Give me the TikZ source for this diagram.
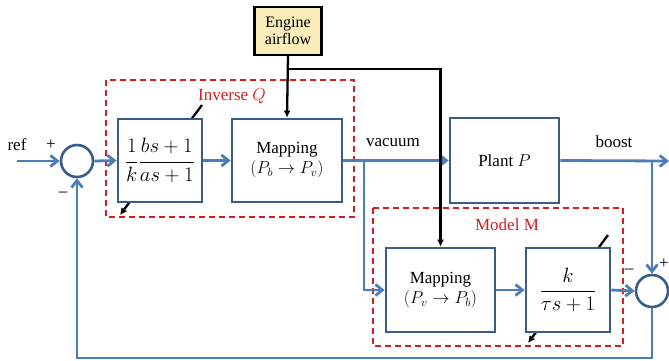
\documentclass[tikz,border=0pt]{standalone}
\usepackage{fontspec}
\setmainfont{Liberation Serif}
\usetikzlibrary{arrows.meta}
\definecolor{wire}{RGB}{74,126,187}
\definecolor{edge}{RGB}{56,93,138}
\definecolor{dash}{RGB}{210,30,30}
\definecolor{sand}{RGB}{249,237,185}
\begin{document}
\begin{tikzpicture}[x=1pt,y=-1pt,line cap=butt,line join=miter,
  >={Straight Barb[length=7pt,width=11pt]},
  font=\fontsize{17}{20}\selectfont,
  blockbox/.style={draw=edge,line width=2.6pt,fill=white,align=center,inner sep=0pt},
  sumnode/.style={draw=edge,line width=2.6pt,fill=white,circle,minimum size=32pt,inner sep=0pt},
  wireline/.style={draw=wire,line width=2.8pt},
  frame/.style={draw=dash,line width=1.7pt,dash pattern=on 6pt off 4pt},
  tuner/.style={draw=black,line width=2.3pt,-{Latex[length=7pt,width=7pt]}},
  sign/.style={inner sep=0pt,font=\fontsize{17}{17}\selectfont}]
  \useasboundingbox (0,0) rectangle (669,360);
  % frames of Q and M
  \draw[frame] (106,80) rectangle (354,217);
  \draw[frame] (373,208) rectangle (623,346);
  \node[text=dash,inner sep=1pt] (qlab) at (232,96) {Inverse $Q$};
  \node[text=dash,inner sep=1pt] (mlab) at (507,225) {Model M};
  % tuning arrows, behind the blocks
  \draw[tuner] (202,105) -- (120,215);
  \draw[tuner] (608,235) -- (528,343);
  % blocks
  \node[sumnode] (sumA) at (77,161) {};
  \node[blockbox,minimum width=84pt,minimum height=83pt] (blkQ) at (160,160.5)
    {\fontsize{20}{22}\selectfont$\displaystyle\frac{1}{k}\frac{bs+1}{as+1}$};
  \node[blockbox,minimum width=110pt,minimum height=83pt] (mapA) at (287,160.5)
    {Mapping\\$(P_b\rightarrow P_v)$};
  \node[blockbox,minimum width=109pt,minimum height=85pt] (plant) at (504.5,160.5) {Plant $P$};
  \node[blockbox,minimum width=109pt,minimum height=84pt] (mapB) at (440.5,290)
    {Mapping\\$(P_v\rightarrow P_b)$};
  \node[blockbox,minimum width=84pt,minimum height=84pt] (blkM) at (568,290)
    {\fontsize{20}{22}\selectfont$\displaystyle\frac{k}{\tau s+1}$};
  \node[sumnode] (sumB) at (652,291) {};
  \node[draw=black,line width=2.3pt,fill=sand,minimum width=67pt,minimum height=48pt,
    align=center,inner sep=0pt,font=\fontsize{16}{17}\selectfont] (engine) at (288,31)
    {Engine\\airflow};
  % points on the wires
  \coordinate (refin) at (17,161);
  \coordinate (vtap) at (364,161);
  \coordinate (btap) at (652,161);
  \coordinate (bout) at (669,161);
  \coordinate (etap) at (288,69);
  % signal wires
  \draw[wireline,->] (refin) -- (sumA.west);
  \draw[wireline,->] (sumA.east) -- (blkQ.west);
  \draw[wireline,->] (blkQ.east) -- (mapA.west);
  \draw[wireline,->] (mapA.east) -- (plant.west);
  \draw[wireline,->] (plant.east) -- (bout);
  \draw[wireline,->] (vtap) |- (mapB.west);
  \draw[wireline,->] (mapB.east) -- (blkM.west);
  \draw[wireline,->] (blkM.east) -- (sumB.west);
  \draw[wireline,->] (btap) -- (sumB.north);
  \draw[wireline,->] (sumB.south) -- (652,358) -| (sumA.south);
  % engine airflow
  \draw[line width=2.3pt,-{Latex[length=7pt,width=7pt]}] (engine.south) -- (mapA.north);
  \draw[line width=2.3pt,-{Latex[length=7pt,width=7pt]}] (etap) -| (mapB.north);
  % labels
  \node[inner sep=1pt] (ref) at (17,145) {ref};
  \node[sign] (plusA) at (51,145) {+};
  \node[sign] (minusA) at (63,194) {--};
  \node[sign] (plusB) at (664,264) {+};
  \node[sign] (minusB) at (629,271) {--};
  \node[inner sep=1pt] (vac) at (393,143) {vacuum};
  \node[inner sep=1pt] (boost) at (614,142) {boost};
\end{tikzpicture}
\end{document}
